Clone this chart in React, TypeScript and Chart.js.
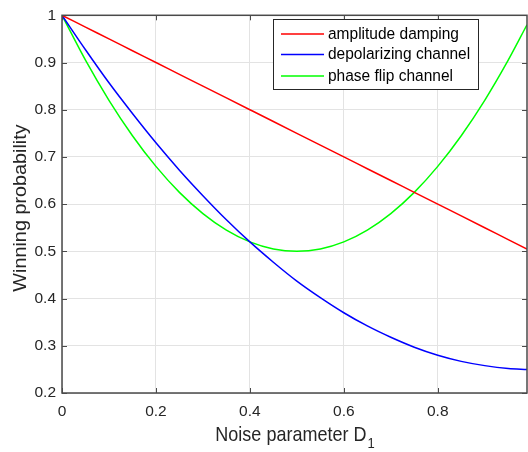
import React, { useEffect, useRef } from "react";
import { Chart, registerables } from "chart.js";

Chart.register(...registerables);

const noiseD = [0, 0.05, 0.1, 0.15, 0.2, 0.25, 0.3, 0.35, 0.4, 0.45, 0.5, 0.55, 0.6, 0.65, 0.7, 0.75, 0.8, 0.85, 0.9, 0.95, 0.99];
const amplitudeDamping = [1, 0.975, 0.95, 0.925, 0.9, 0.875, 0.85, 0.825, 0.8, 0.775, 0.75, 0.725, 0.7, 0.675, 0.65, 0.625, 0.6, 0.575, 0.55, 0.525, 0.505];
const depolarizing = [1, 0.927, 0.857, 0.792, 0.73, 0.672, 0.618, 0.567, 0.52, 0.477, 0.437, 0.402, 0.37, 0.342, 0.318, 0.297, 0.28, 0.267, 0.258, 0.252, 0.25];
const phaseFlip = [1, 0.905, 0.82, 0.745, 0.68, 0.625, 0.58, 0.545, 0.52, 0.505, 0.5, 0.505, 0.52, 0.545, 0.58, 0.625, 0.68, 0.745, 0.82, 0.905, 0.98];

const seriesLabels = ["amplitude damping", "depolarizing channel", "phase flip channel"];
const seriesColors = ["#ff0000", "#0000ff", "#00ff00"];
const xTicks = [0, 0.2, 0.4, 0.6, 0.8];
const yTicks = [0.2, 0.3, 0.4, 0.5, 0.6, 0.7, 0.8, 0.9, 1];
const xTitle = "Noise parameter D";
const xTitleSub = "1";
const yTitle = "Winning probability";

const FONT = "'Liberation Sans', Arial, Helvetica, sans-serif";
const TEXT = "#262626";

const decorPlugin = {
  id: "decor",
  afterDraw(chart: any) {
    const { ctx, chartArea } = chart;
    const { left, right, top, bottom } = chartArea;
    const xs = chart.scales.x;
    const ys = chart.scales.y;
    ctx.save();
    // box
    ctx.strokeStyle = "#4a4a4a";
    ctx.lineWidth = 1.5;
    ctx.strokeRect(left, top, right - left, bottom - top);
    // inward ticks
    ctx.lineWidth = 1;
    ctx.beginPath();
    xTicks.forEach((v) => {
      const px = Math.round(xs.getPixelForValue(v)) + 0.5;
      ctx.moveTo(px, bottom);
      ctx.lineTo(px, bottom - 5);
      ctx.moveTo(px, top);
      ctx.lineTo(px, top + 5);
    });
    yTicks.forEach((v) => {
      const py = Math.round(ys.getPixelForValue(v)) + 0.5;
      ctx.moveTo(left, py);
      ctx.lineTo(left + 5, py);
      ctx.moveTo(right, py);
      ctx.lineTo(right - 5, py);
    });
    ctx.stroke();

    // legend
    const lx = 273.5, ly = 19.5, lw = 205, lh = 70;
    ctx.fillStyle = "#ffffff";
    ctx.fillRect(lx, ly, lw, lh);
    ctx.strokeStyle = "#262626";
    ctx.lineWidth = 1;
    ctx.strokeRect(lx, ly, lw, lh);
    const rows = [34, 54.5, 76];
    ctx.font = `15.5px ${FONT}`;
    ctx.textBaseline = "middle";
    ctx.textAlign = "left";
    chart.data.datasets.forEach((ds: any, i: number) => {
      ctx.strokeStyle = ds.borderColor;
      ctx.lineWidth = 1.5;
      ctx.beginPath();
      ctx.moveTo(281, rows[i]);
      ctx.lineTo(324, rows[i]);
      ctx.stroke();
      ctx.fillStyle = "#000000";
      ctx.save();
      ctx.translate(328, rows[i]);
      ctx.scale(1, 1.06);
      ctx.fillText(ds.label, 0, 0);
      ctx.restore();
    });

    // x title with subscript
    ctx.fillStyle = TEXT;
    ctx.font = `18px ${FONT}`;
    ctx.textBaseline = "alphabetic";
    const mainW = ctx.measureText(xTitle).width;
    ctx.font = `13px ${FONT}`;
    const subW = ctx.measureText(xTitleSub).width;
    const cx = (left + right) / 2;
    const sx = cx - (mainW + subW) / 2;
    ctx.save();
    ctx.translate(0, 441);
    ctx.scale(1, 1.1);
    ctx.font = `18px ${FONT}`;
    ctx.fillText(xTitle, sx, 0);
    ctx.font = `13px ${FONT}`;
    ctx.fillText(xTitleSub, sx + mainW + 1, 6);
    ctx.restore();

    // y title
    ctx.font = `18px ${FONT}`;
    ctx.translate(21, 208);
    ctx.rotate(-Math.PI / 2);
    ctx.scale(1.1, 1);
    ctx.textAlign = "center";
    ctx.textBaseline = "middle";
    ctx.fillText(yTitle, 0, 0);
    ctx.restore();
  },
};

export default function App() {
  const ref = useRef<HTMLCanvasElement | null>(null);
  useEffect(() => {
    document.body.style.margin = "0";
    const canvas = ref.current;
    if (!canvas) return;
    const mk = (vals: number[]) => noiseD.map((x, i) => ({ x, y: vals[i] }));
    const series = [amplitudeDamping, depolarizing, phaseFlip];
    const chart = new Chart(canvas, {
      type: "line",
      data: {
        datasets: series.map((vals, i) => ({
          label: seriesLabels[i],
          data: mk(vals),
          borderColor: seriesColors[i],
          backgroundColor: seriesColors[i],
          borderWidth: 1.5,
          pointRadius: 0,
          fill: false,
          cubicInterpolationMode: "monotone" as const,
        })),
      },
      options: {
        animation: false,
        responsive: false,
        maintainAspectRatio: false,
        devicePixelRatio: 1,
        layout: { padding: { top: 10, right: 1, left: 0, bottom: 0 } },
        plugins: { legend: { display: false }, tooltip: { enabled: false } },
        scales: {
          x: {
            type: "linear",
            min: 0,
            max: 0.99,
            afterBuildTicks: (s: any) => {
              s.ticks = xTicks.map((v) => ({ value: v }));
            },
            afterFit: (s: any) => {
              s.height = 59;
            },
            grid: { color: "#e3e3e3", drawTicks: false, lineWidth: 1 },
            border: { display: false },
            ticks: {
              font: { family: FONT, size: 15.5 },
              color: TEXT,
              padding: 9,
              maxRotation: 0,
              autoSkip: false,
              callback: (v: any) => String(v),
            },
          },
          y: {
            type: "linear",
            min: 0.2,
            max: 1,
            afterBuildTicks: (s: any) => {
              s.ticks = yTicks.map((v) => ({ value: v }));
            },
            afterFit: (s: any) => {
              s.width = 62;
            },
            grid: { color: "#e3e3e3", drawTicks: false, lineWidth: 1 },
            border: { display: false },
            ticks: {
              font: { family: FONT, size: 15.5 },
              color: TEXT,
              padding: 6,
              autoSkip: false,
              callback: (v: any) => String(v),
            },
          },
        },
      },
      plugins: [decorPlugin],
    });
    return () => chart.destroy();
  }, []);
  return <canvas ref={ref} width={528} height={452} style={{ display: "block" }} />;
}
